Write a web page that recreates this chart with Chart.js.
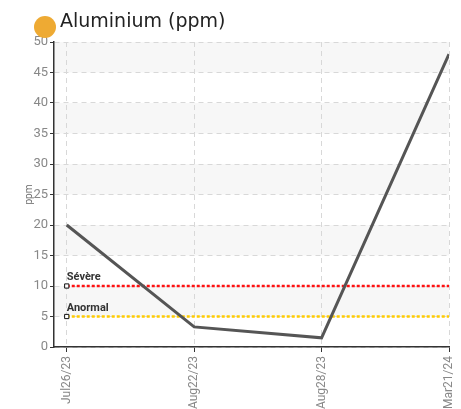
<!DOCTYPE html>
<html>
<head>
<meta charset="utf-8">
<script src="https://cdn.jsdelivr.net/npm/chart.js@4.4.1/dist/chart.umd.min.js"></script>
<style>
  html, body { margin: 0; padding: 0; background: #fff; }
  #wrap { width: 461px; height: 409px; }
</style>
</head>
<body>
<div id="wrap"><canvas id="alChart" width="461" height="409"></canvas></div>
<script>
const dates = ['Jul26/23', 'Aug22/23', 'Aug28/23', 'Mar21/24'];
const aluminium = [20, 3.3, 1.5, 48];
const severeLimit = [10, 10, 10, 10];
const abnormalLimit = [5, 5, 5, 5];
const yTicks = [0, 5, 10, 15, 20, 25, 30, 35, 40, 45, 50];

const narrow = "'Liberation Sans Narrow', 'Roboto', sans-serif";

// grey / white bands between the y ticks
const bands = {
    id: 'bands',
    beforeDraw(chart) {
        const { ctx, chartArea, scales } = chart;
        const y = scales.y;
        ctx.save();
        ctx.fillStyle = '#f7f7f7';
        for (let i = 1; i < yTicks.length - 1; i += 2) {
            const top = y.getPixelForValue(yTicks[i + 1]);
            const bot = y.getPixelForValue(yTicks[i]);
            ctx.fillRect(chartArea.left, top, chartArea.right - chartArea.left, bot - top);
        }
        ctx.restore();
    }
};

// header + labels on the limit lines
const extras = {
    id: 'extras',
    afterDraw(chart) {
        const { ctx, scales } = chart;
        ctx.save();
        ctx.fillStyle = '#eeaa33';
        ctx.beginPath();
        ctx.arc(45, 27, 11, 0, Math.PI * 2);
        ctx.fill();
        ctx.fillStyle = '#222';
        ctx.font = "19px 'DejaVu Sans', sans-serif";
        ctx.textBaseline = 'alphabetic';
        ctx.fillText('Aluminium (ppm)', 60, 27);

        ctx.font = "bold 11px " + narrow;
        ctx.fillStyle = '#333';
        const x0 = scales.x.getPixelForValue(0);
        ctx.fillText('Sévère', x0, scales.y.getPixelForValue(severeLimit[0]) - 6);
        ctx.fillText('Anormal', x0, scales.y.getPixelForValue(abnormalLimit[0]) - 6);
        ctx.restore();
    }
};

function limitSet(label, data, color) {
    return {
        label: label,
        data: data.map((v, i) => ({ x: i, y: v })),
        borderColor: color,
        borderWidth: 2.5,
        borderDash: [3, 2],
        pointStyle: 'rect',
        pointRadius: data.map((v, i) => i === 0 ? 3 : 0),
        pointBackgroundColor: '#fff',
        pointBorderColor: '#111',
        pointBorderWidth: 1,
        fill: false,
        order: 2
    };
}

const ctx = document.getElementById('alChart').getContext('2d');
new Chart(ctx, {
    type: 'line',
    data: {
        datasets: [
            limitSet('Sévère', severeLimit, '#ff1111'),
            limitSet('Anormal', abnormalLimit, '#ffcc00'),
            {
                label: 'Aluminium (ppm)',
                data: aluminium.map((v, i) => ({ x: i, y: v })),
                borderColor: '#555555',
                borderWidth: 3,
                pointRadius: 0,
                tension: 0,
                fill: false,
                order: 1
            }
        ]
    },
    options: {
        responsive: false,
        animation: false,
        layout: { padding: { top: 42, right: 12, left: 19, bottom: 0 } },
        plugins: {
            legend: { display: false },
            tooltip: { enabled: false }
        },
        scales: {
            x: {
                type: 'linear',
                min: -0.1,
                max: 3,
                afterBuildTicks: (axis) => { axis.ticks = dates.map((d, i) => ({ value: i })); },
                afterFit: (axis) => {
                    axis.height = 62;
                    axis.paddingLeft = 0;
                    axis.paddingRight = 0;
                },
                ticks: {
                    color: '#888',
                    font: { family: narrow, size: 12 },
                    maxRotation: 90,
                    minRotation: 90,
                    padding: 4,
                    callback: (v) => dates[v]
                },
                grid: {
                    color: '#d8d8d8',
                    tickColor: '#333',
                    tickBorderDash: [],
                    tickLength: 5
                },
                border: { color: '#333', width: 1.5, dash: [5, 4] }
            },
            y: {
                min: 0,
                max: 50,
                afterBuildTicks: (axis) => { axis.ticks = yTicks.map(v => ({ value: v })); },
                afterFit: (axis) => {
                    axis.width = 35;
                    axis.paddingTop = 0;
                    axis.paddingBottom = 0;
                },
                title: {
                    display: true,
                    text: 'ppm',
                    color: '#666',
                    font: { family: narrow, size: 10 },
                    padding: 4
                },
                ticks: {
                    color: '#888',
                    font: { family: narrow, size: 13 },
                    padding: 2
                },
                grid: {
                    color: '#d8d8d8',
                    tickColor: '#333',
                    tickBorderDash: [],
                    tickLength: 4
                },
                border: { color: '#333', width: 1.5, dash: [5, 4] }
            }
        }
    },
    plugins: [bands, extras]
});
</script>
</body>
</html>
